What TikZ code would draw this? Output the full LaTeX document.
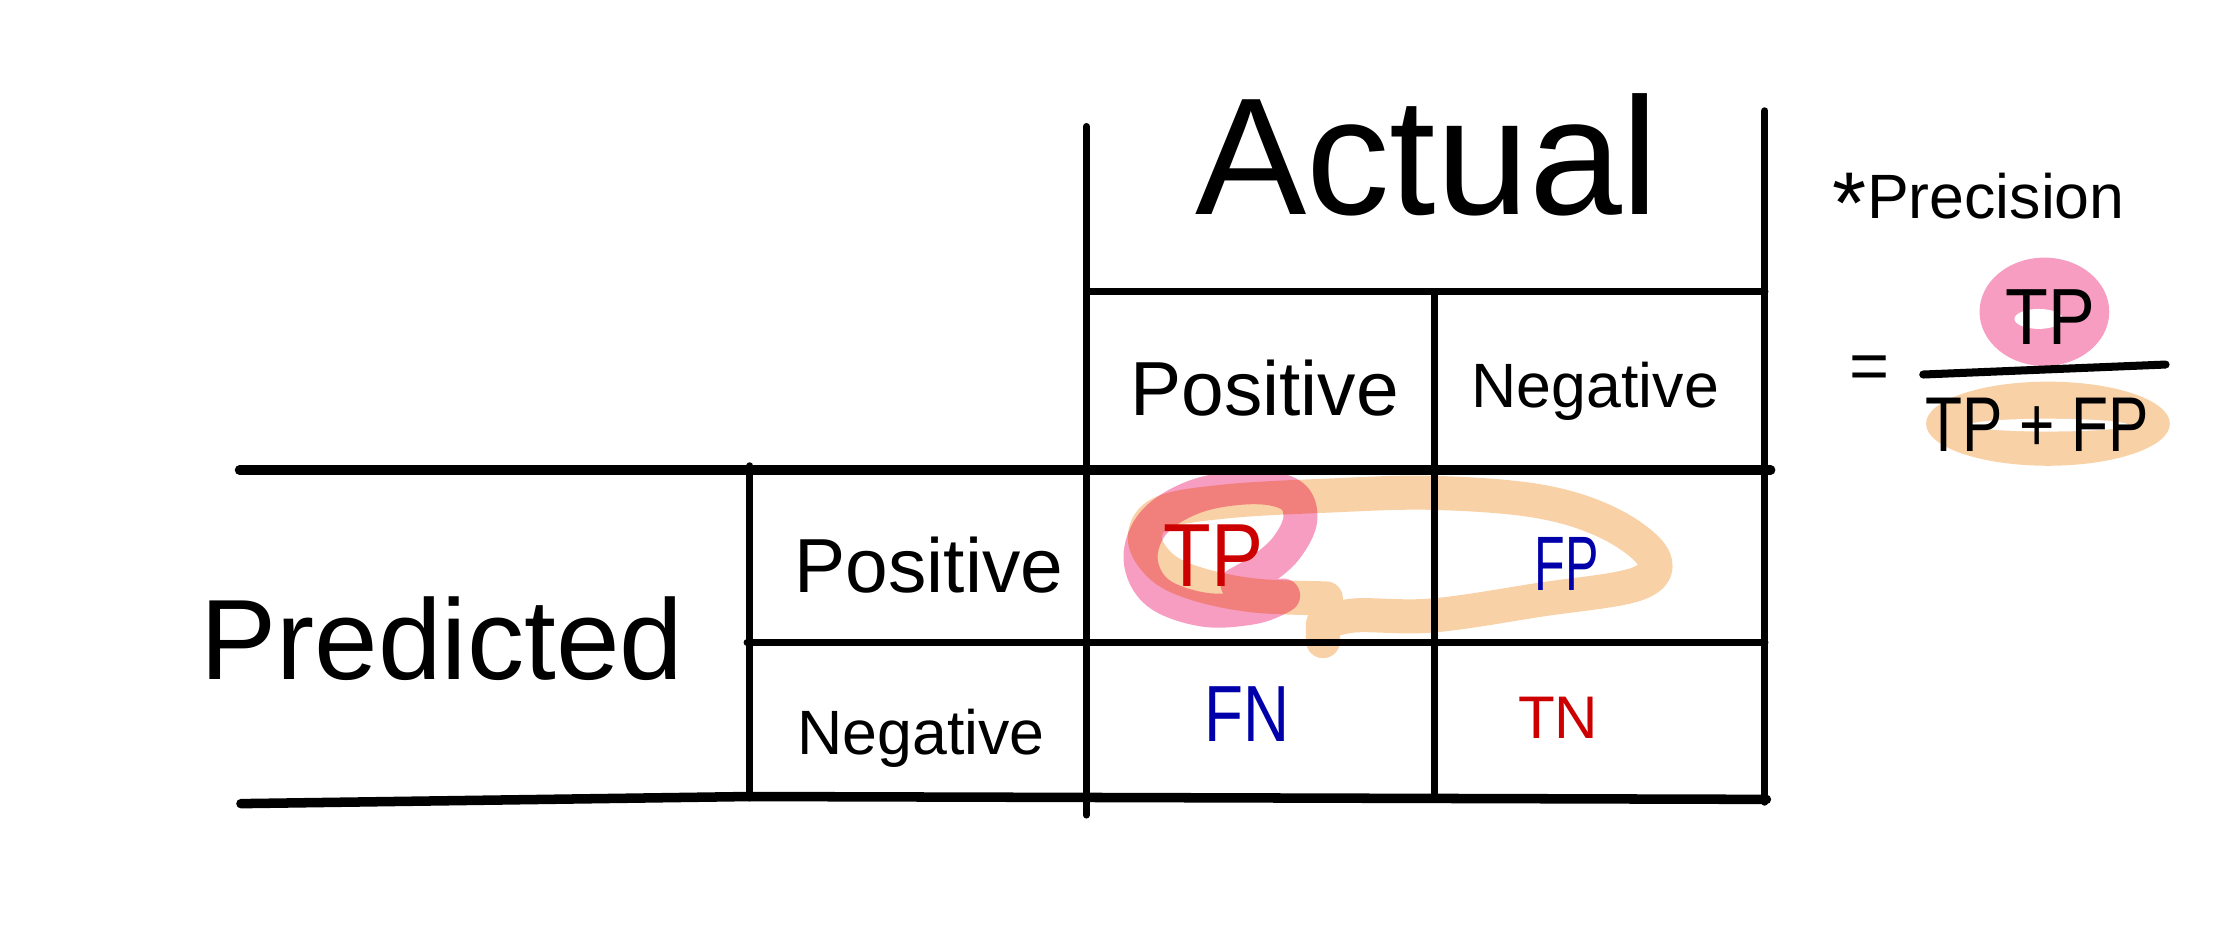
\documentclass[tikz,border=0pt]{standalone}
\usepackage{fontspec}
\usepackage{graphicx}
\newfontfamily\tabfont{Liberation Sans}
\newfontfamily\handfont{Liberation Sans}
\definecolor{hlpink}{RGB}{247,157,193}
\definecolor{hlorange}{RGB}{249,209,166}
\definecolor{penred}{RGB}{204,0,0}
\definecolor{penblue}{RGB}{0,0,170}
\tikzset{
  tabline/.style={line width=1.4pt,line cap=round},
  tabthick/.style={line width=1.9pt,line cap=round,line join=round},
  tabtext/.style={inner sep=0pt,anchor=base},
  hand/.style={inner sep=0pt},
  marker/.style={line width=6.8pt,line cap=round,line join=round},
}
\begin{document}
\begin{tikzpicture}
\useasboundingbox (0,0) rectangle (15.6,6.587);
% highlighter strokes
\begin{scope}[blend mode=multiply]
\draw[marker,hlorange] plot[smooth,tension=0.6] coordinates {(9.30,2.39) (8.80,2.41) (8.40,2.49) (8.15,2.61) (8.03,2.81) (8.15,2.99) (8.60,3.07) (9.30,3.11) (10.05,3.13) (10.80,3.07) (11.30,2.91) (11.60,2.67) (11.48,2.49) (10.80,2.38) (10.05,2.27) (9.50,2.27) (9.28,2.21)}
  (9.28,2.21) -- (9.28,2.09);
\draw[marker,hlpink] plot[smooth,tension=0.6] coordinates {(8.68,2.49) (8.85,2.59) (9.02,2.74) (9.12,2.94) (9.06,3.11) (8.80,3.17) (8.40,3.11) (8.10,2.93) (8.00,2.67) (8.12,2.43) (8.45,2.31) (8.80,2.33) (9.00,2.41)};
\fill[hlpink] (14.34,4.40) ellipse [x radius=0.455,y radius=0.38];
\fill[hlorange] (14.365,3.615) ellipse [x radius=0.855,y radius=0.295];
\end{scope}
\fill[white] (14.30,4.35) ellipse [x radius=0.17,y radius=0.07];
\fill[white] (14.37,3.605) ellipse [x radius=0.56,y radius=0.045];
% table corners
\coordinate (L1) at (7.62,5.70); \coordinate (L2) at (7.62,0.87);
\coordinate (R1) at (12.38,5.81); \coordinate (R2) at (12.38,0.96);
\coordinate (H1) at (7.64,4.54); \coordinate (H2) at (12.38,4.54);
\coordinate (M1) at (10.06,4.54); \coordinate (M2) at (10.06,0.98);
\coordinate (P1) at (1.68,3.29); \coordinate (P2) at (12.42,3.29);
\coordinate (C1) at (5.26,3.32); \coordinate (C2) at (5.26,0.99);
\coordinate (N1) at (5.24,2.08); \coordinate (N2) at (12.38,2.08);
\coordinate (B1) at (1.69,0.95); \coordinate (B2) at (5.26,1.00); \coordinate (B3) at (12.39,0.98);
\draw[tabline] (L1) -- (L2);
\draw[tabline] (R1) -- (R2);
\draw[tabline] (H1) -- (H2);
\draw[tabline] (M1) -- (M2);
\draw[tabline] (C1) -- (C2);
\draw[tabline] (N1) -- (N2);
\draw[tabthick] (P1) -- (P2);
\draw[tabthick] (B1) -- (B2) -- (B3);
% labels
\node[tabtext,font=\tabfont\fontsize{33.3pt}{36pt}\selectfont] (Act) at (10.01,5.08) {Actual};
\node[tabtext,font=\tabfont\fontsize{15.3pt}{18pt}\selectfont] (APos) at (8.87,3.67) {Positive};
\node[tabtext,font=\tabfont\fontsize{12.5pt}{15pt}\selectfont] (ANeg) at (11.19,3.73) {Negative};
\node[tabtext,font=\tabfont\fontsize{22.8pt}{26pt}\selectfont] (Pred) at (3.10,1.82) {Predicted};
\node[tabtext,font=\tabfont\fontsize{15.3pt}{18pt}\selectfont] (PPos) at (6.515,2.43) {Positive};
\node[tabtext,font=\tabfont\fontsize{12.5pt}{15pt}\selectfont] (PNeg) at (6.46,1.295) {Negative};
% cells
\node[hand,penred,xscale=0.87,font=\handfont\fontsize{17.9pt}{20pt}\selectfont] (TP) at (8.51,2.69) {TP};
\node[hand,penblue,xscale=0.65,font=\handfont\fontsize{15.4pt}{18pt}\selectfont] (FP) at (10.99,2.63) {FP};
\node[hand,penblue,xscale=0.8,font=\handfont\fontsize{15.9pt}{18pt}\selectfont] (FN) at (8.75,1.58) {FN};
\node[hand,penred,font=\handfont\fontsize{12pt}{14pt}\selectfont] (TN) at (10.93,1.55) {TN};
% precision
\node[hand,font=\handfont\fontsize{12.5pt}{15pt}\selectfont] (Prec) at (13.88,5.16) {\raisebox{-0.45ex}{\scalebox{1.4}{*}}Precision};
\node[hand,font=\handfont\fontsize{13.7pt}{16pt}\selectfont] (Eq) at (13.11,3.97) {=};
\coordinate (F1) at (13.49,3.96); \coordinate (F2) at (15.19,4.03);
\draw[line width=1.6pt,line cap=round] (F1) -- (F2);
\node[hand,xscale=0.88,font=\handfont\fontsize{15.9pt}{18pt}\selectfont] (Num) at (14.38,4.36) {TP};
\node[hand,xscale=0.78,font=\handfont\fontsize{15.5pt}{18pt}\selectfont] (Den) at (14.29,3.61) {TP + FP};
\end{tikzpicture}
\end{document}
